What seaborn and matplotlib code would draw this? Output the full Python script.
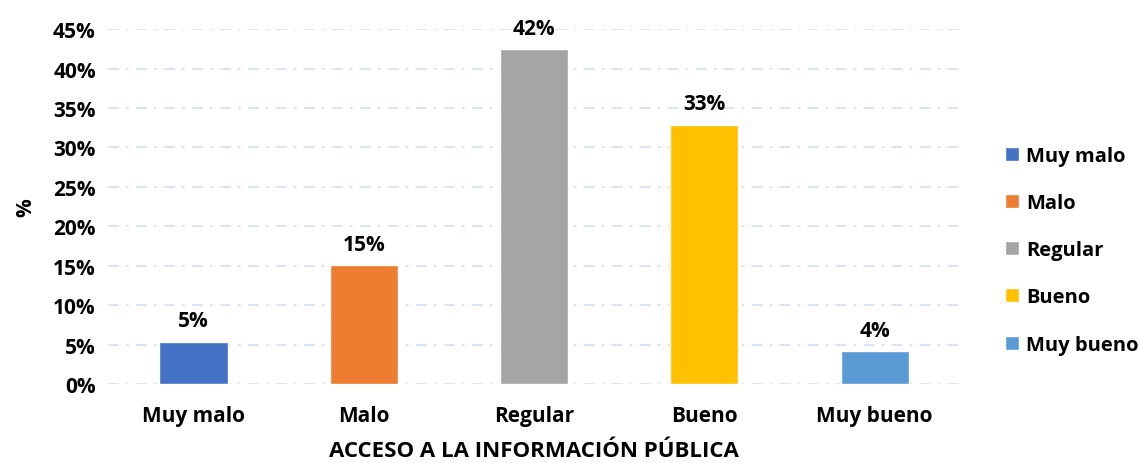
import matplotlib
matplotlib.use("Agg")
import matplotlib.pyplot as plt
import pandas as pd
import seaborn as sns
from matplotlib.ticker import PercentFormatter

categorias = ["Muy malo", "Malo", "Regular", "Bueno", "Muy bueno"]
porcentajes = [5.4, 15.1, 42.5, 32.9, 4.2]
etiquetas = ["5%", "15%", "42%", "33%", "4%"]
colores = ["#4472C4", "#ED7D31", "#A5A5A5", "#FFC000", "#5B9BD5"]

df = pd.DataFrame({"Categoria": categorias, "Porcentaje": porcentajes})

sns.set_style("white")
plt.rcParams["font.family"] = ["Open Sans", "DejaVu Sans"]
plt.rcParams["font.weight"] = "bold"
plt.rcParams["text.color"] = "black"
plt.rcParams["axes.labelcolor"] = "black"
plt.rcParams["xtick.color"] = "black"
plt.rcParams["ytick.color"] = "black"

fig = plt.figure(figsize=(11.4, 4.64), dpi=100)
ax = fig.add_axes([0.095, 0.17, 0.747, 0.765])

sns.barplot(data=df, x="Categoria", y="Porcentaje", hue="Categoria",
            palette=colores, width=0.4, ax=ax, legend=True, saturation=1)

for i, (v, t) in enumerate(zip(porcentajes, etiquetas)):
    ax.text(i, v + 1.3, t, ha="center", va="bottom", fontsize=15, fontweight="bold")

ax.set_ylim(0, 45)
ax.set_yticks(range(0, 46, 5))
ax.yaxis.set_major_formatter(PercentFormatter(decimals=0))
ax.grid(axis="y", color="#D9E1F2", linestyle=(0, (6, 4, 1.5, 4)), linewidth=1.3)
ax.set_axisbelow(True)
for s in ax.spines.values():
    s.set_visible(False)
ax.tick_params(axis="y", length=0, labelsize=15, pad=9)
ax.tick_params(axis="x", length=0, labelsize=15, pad=15)
for lab in ax.get_xticklabels() + ax.get_yticklabels():
    lab.set_fontweight("bold")

ax.set_xlabel("ACCESO A LA INFORMACIÓN PÚBLICA", fontsize=16, fontweight="bold", labelpad=10)
ax.set_ylabel("%", fontsize=15, fontweight="bold", labelpad=12)

leg = ax.legend(loc="center left", bbox_to_anchor=(1.053, 0.377), frameon=False,
                prop={"weight": "bold", "size": 14.5}, handlelength=0.7,
                handleheight=0.7, labelspacing=1.35, handletextpad=0.35,
                borderpad=0, borderaxespad=0)

fig.savefig("out.png", dpi=100)
